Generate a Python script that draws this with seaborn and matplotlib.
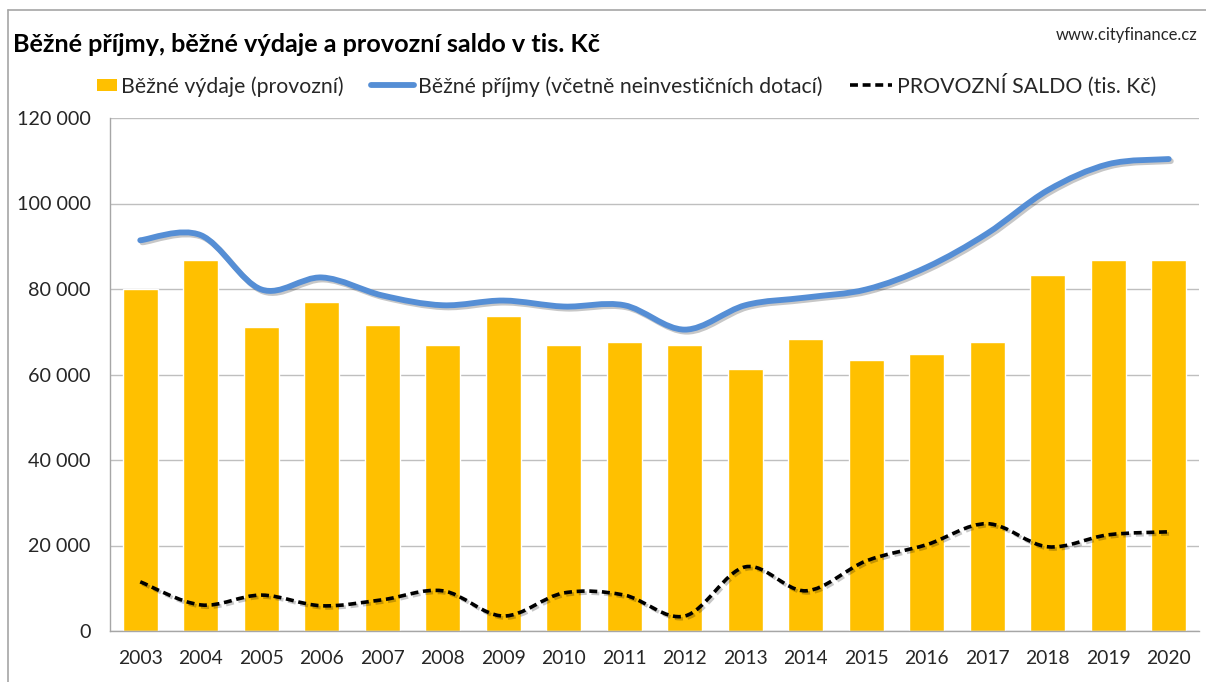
import numpy as np
import pandas as pd
import matplotlib
matplotlib.use("Agg")
import matplotlib.pyplot as plt
import seaborn as sns
from matplotlib.path import Path
from matplotlib.patches import PathPatch, Patch, Rectangle
from matplotlib.lines import Line2D
from matplotlib.legend_handler import HandlerPatch
import matplotlib.patheffects as pe
from matplotlib.ticker import FuncFormatter

years = [str(y) for y in range(2003, 2021)]
vydaje = [80100, 86700, 71200, 76900, 71500, 66800, 73600, 66800, 67700,
          66800, 61200, 68400, 63500, 64900, 67700, 83200, 86700, 86700]
prijmy = [91400, 92600, 79900, 82700, 78500, 76200, 77300, 75900, 76200,
          70500, 76200, 78000, 79900, 85100, 93000, 103100, 109200, 110400]
saldo = [11500, 6100, 8400, 5900, 7300, 9400, 3500, 8900, 8400,
         3500, 15000, 9400, 16400, 20200, 25100, 19700, 22500, 23200]

title = "Běžné příjmy, běžné výdaje a provozní saldo v tis. Kč"
source = "www.cityfinance.cz"
lab_bar = "Běžné výdaje (provozní)"
lab_line = "Běžné příjmy (včetně neinvestičních dotací)"
lab_saldo = "PROVOZNÍ SALDO (tis. Kč)"

df = pd.DataFrame({"rok": years, "vydaje": vydaje})

sns.set_theme(style="white")
plt.rcParams['font.family'] = ['Lato', 'DejaVu Sans']

fig = plt.figure(figsize=(12.06, 6.82), dpi=100)
ax = fig.add_axes([110/1206, 51/682, (1199-110)/1206, (631-118)/682])

C_BAR = "#FFC000"
C_LINE = "#558ED5"

sns.barplot(data=df, x="rok", y="vydaje", color=C_BAR, width=0.58,
            saturation=1, ax=ax, zorder=2)


def smooth_path(xs, ys):
    xs = np.asarray(xs, float)
    ys = np.asarray(ys, float)
    n = len(xs)
    verts = [(xs[0], ys[0])]
    codes = [Path.MOVETO]
    for i in range(n - 1):
        p0 = np.array([xs[max(i - 1, 0)], ys[max(i - 1, 0)]])
        p1 = np.array([xs[i], ys[i]])
        p2 = np.array([xs[i + 1], ys[i + 1]])
        p3 = np.array([xs[min(i + 2, n - 1)], ys[min(i + 2, n - 1)]])
        c1 = p1 + (p2 - p0) / 6.0
        c2 = p2 - (p3 - p1) / 6.0
        verts += [tuple(c1), tuple(c2), tuple(p2)]
        codes += [Path.CURVE4, Path.CURVE4, Path.CURVE4]
    return Path(verts, codes)


xpos = np.arange(len(years))
shadow = [pe.SimpleLineShadow(offset=(1.5, -1.5), shadow_color="black", alpha=0.22), pe.Normal()]

p_line = PathPatch(smooth_path(xpos, prijmy), fill=False, edgecolor=C_LINE,
                   linewidth=4.2, capstyle="round", joinstyle="round", zorder=4,
                   transform=ax.transData)
p_line.set_path_effects(shadow)
ax.add_patch(p_line)

p_saldo = PathPatch(smooth_path(xpos, saldo), fill=False, edgecolor="black",
                    linewidth=2.6, linestyle=(0, (2.2, 1.3)), capstyle="butt",
                    zorder=4, transform=ax.transData)
p_saldo.set_path_effects(shadow)
ax.add_patch(p_saldo)

ax.set_xlim(-0.5, len(years) - 0.5)
ax.set_ylim(0, 120000)
ax.set_yticks(np.arange(0, 120001, 20000))
ax.yaxis.set_major_formatter(FuncFormatter(lambda v, p: f"{int(v):,}".replace(",", " ")))
ax.grid(axis="y", color="#BFBFBF", linewidth=1.0, zorder=0)
ax.set_axisbelow(True)
ax.set_xlabel("")
ax.set_ylabel("")
ax.spines["right"].set_visible(False)
ax.spines["top"].set_visible(False)
for s in ["left", "bottom"]:
    ax.spines[s].set_color("#A6A6A6")
    ax.spines[s].set_linewidth(1.0)
ax.tick_params(axis="both", length=0, colors="#262626")
ax.tick_params(axis="y", pad=14, labelsize=14.2)
ax.tick_params(axis="x", pad=14, labelsize=13.9)

# outer chart border
fig.add_artist(Line2D([8/1206, 8/1206], [0, 1 - 10/682], transform=fig.transFigure,
                      color="#A6A6A6", linewidth=1.2))
fig.add_artist(Line2D([8/1206, 1], [1 - 10/682, 1 - 10/682], transform=fig.transFigure,
                      color="#A6A6A6", linewidth=1.2))

fig.text(13/1206, 1 - 45/682, title, fontsize=18.2, fontweight="bold",
         color="black", va="center", ha="left")
fig.text(1197/1206, 1 - 35/682, source, fontsize=11.9, color="#262626",
         va="center", ha="right")


def small_rect(legend, orig_handle, xdescent, ydescent, width, height, fontsize):
    w = width * 0.45
    h = height * 0.85
    return Rectangle((-xdescent + width - w, -ydescent + (height - h) / 2), w, h)


handles = [Patch(facecolor=C_BAR, edgecolor="none"),
           Line2D([0], [0], color=C_LINE, linewidth=4.2, solid_capstyle="round"),
           Line2D([0], [0], color="black", linewidth=2.6, linestyle=(0, (2.2, 1.3)))]
fig.legend(handles, [lab_bar, lab_line, lab_saldo], ncol=3, loc="center",
           bbox_to_anchor=(615/1206, 1 - 85/682), frameon=False, fontsize=15.3,
           handlelength=2.0, handletextpad=0.2, columnspacing=1.3, labelcolor="#262626",
           handler_map={Patch: HandlerPatch(patch_func=small_rect)})

fig.savefig("out.png", dpi=100)
